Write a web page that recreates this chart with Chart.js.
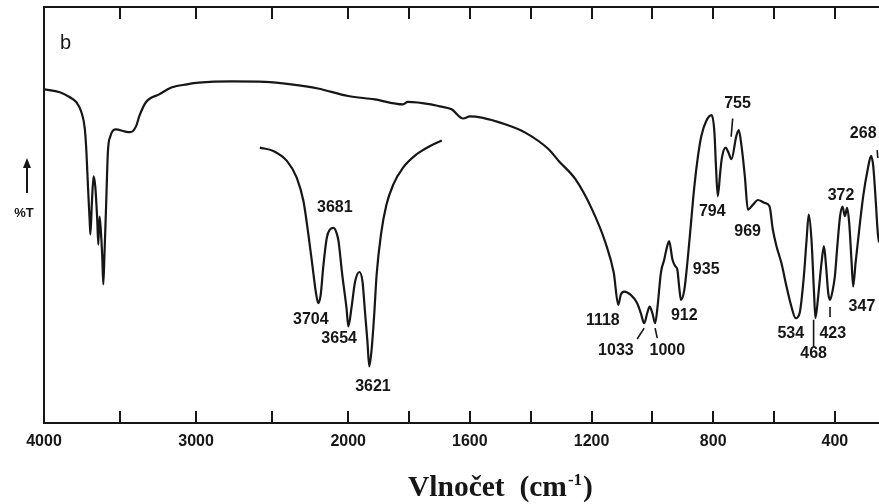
<!DOCTYPE html>
<html>
<head>
<meta charset="utf-8">
<script src="https://cdn.jsdelivr.net/npm/chart.js@4.4.1/dist/chart.umd.min.js"></script>
<style>
    html, body { margin: 0; padding: 0; background: #fff; }
</style>
</head>
<body>
<canvas id="irChart" width="879" height="504"></canvas>
<script>
// IR spectrum (panel b): %T vs wavenumber, scale doubles below 2000 cm-1.
// The O-H stretch region is repeated as an expanded inset curve.

const WAVENUMBERS = [
    4000, 3896, 3830, 3787, 3754, 3732, 3721, 3711, 3700, 3695, 3685, 3674, 3663, 3650,
    3643, 3635, 3628, 3617, 3610, 3602, 3591, 3580, 3564, 3526, 3471, 3434, 3395, 3374,
    3330, 3243, 3158, 3060, 2982, 2767, 2547, 2375, 2199, 2000, 1913, 1820, 1804, 1728,
    1704, 1660, 1622, 1600, 1561, 1484, 1418, 1341, 1308, 1253, 1198, 1154, 1127, 1112,
    1104, 1093, 1071, 1050, 1038, 1027, 1017, 1009, 1000, 991, 983, 972, 961, 954,
    945, 934, 925, 918, 912, 906, 895, 884, 873, 862, 850, 839, 823, 805,
    796, 791, 785, 777, 772, 759, 750, 740, 724, 716, 707, 696, 686, 669,
    653, 631, 615, 604, 592, 576, 559, 543, 529, 516, 502, 493, 486, 477,
    469, 464, 455, 444, 436, 429, 422, 416, 407, 400, 392, 383, 375, 367,
    360, 353, 345, 340, 332, 320, 307, 292, 281, 274, 266, 259, 255
];
const TRANSMITTANCE = [
    80.2, 79.5, 78.3, 77.1, 74.7, 70.8, 65.1, 56.9, 48.9, 45.3, 53.0, 59.3, 56.9, 48.9,
    42.9, 49.6, 47.2, 40.0, 33.3, 41.0, 53.0, 65.1, 68.9, 70.6, 70.1, 69.9, 71.3, 73.7,
    77.1, 79.0, 80.7, 81.4, 81.8, 82.1, 82.0, 81.4, 80.4, 78.6, 77.8, 76.6, 77.2, 76.6,
    76.2, 75.4, 73.2, 73.7, 73.4, 71.8, 69.8, 65.8, 63.0, 58.6, 51.3, 43.3, 36.1, 28.4,
    30.8, 31.6, 30.8, 28.8, 26.4, 24.0, 26.4, 28.0, 26.4, 24.0, 28.0, 36.1, 39.3, 41.7,
    43.7, 39.3, 37.7, 36.9, 32.8, 29.6, 32.0, 39.3, 48.1, 56.9, 64.2, 69.0, 72.6, 74.0,
    69.8, 61.8, 54.5, 60.2, 63.5, 66.2, 65.0, 63.4, 69.0, 70.4, 66.6, 59.3, 51.3, 52.5,
    53.6, 52.9, 52.1, 46.5, 42.5, 38.5, 32.8, 28.0, 25.2, 26.4, 35.3, 44.1, 50.1, 44.1,
    32.0, 25.2, 30.4, 38.5, 42.5, 37.7, 31.3, 29.6, 32.0, 35.3, 42.5, 49.7, 52.0, 49.7,
    51.7, 48.1, 38.5, 32.8, 38.5, 46.5, 54.5, 61.0, 64.2, 61.8, 53.7, 45.7, 43.4
];

// expanded O-H region
const INSET_WAVENUMBERS = [
    3799, 3777, 3755, 3739, 3728, 3720, 3713, 3708, 3704, 3700, 3696, 3690, 3685, 3679,
    3674, 3671, 3665, 3658, 3655, 3650, 3644, 3637, 3632, 3628, 3624, 3621, 3617, 3613,
    3609, 3602, 3593, 3582, 3566, 3544, 3522, 3503
];
const INSET_TRANSMITTANCE = [
    66.2, 65.4, 63.0, 59.0, 53.3, 45.3, 37.3, 31.6, 28.8, 30.8, 37.3, 44.6, 46.5, 46.9,
    45.6, 43.7, 35.7, 27.6, 23.2, 27.6, 34.0, 36.3, 34.0, 26.8, 19.6, 13.6, 18.0, 26.0,
    35.7, 45.3, 52.5, 57.3, 61.4, 64.6, 66.6, 67.9
];

const TICK_MARKS = [3500, 3000, 2500, 2000, 1800, 1600, 1400, 1200, 1000, 800, 600, 400];
const TICK_LABELS = [4000, 3000, 2000, 1600, 1200, 800, 400];

const BANDS = [1118, 1033, 1000, 912, 935, 794, 969, 755, 534, 468, 423, 372, 347, 268];
const INSET_BANDS = [3704, 3681, 3654, 3621];

// where each band number is written, [wavenumber, %T]
const BAND_SPOTS = [
    [1163, 24.5], [1120, 17.3], [951, 17.3], [895, 25.7], [823, 36.8], [803, 50.7], [687, 45.9],
    [720, 76.7], [545, 21.4], [470, 16.8], [407, 21.4], [380, 54.6], [311, 28.1], [307, 69.5]
];
const INSET_SPOTS = [[3716, 24.8], [3677, 51.9], [3670, 20.2], [3615, 8.7]];

// short pointer strokes next to some numbers
const LEADERS = [
    [[1050, 20.2], [1027, 22.8]],
    [[991, 22.8], [984, 20.4]],
    [[470, 24.8], [470, 18.3]],
    [[416, 27.9], [416, 25.5]],
    [[736, 73.2], [741, 68.8]],
    [[261, 65.6], [259, 63.7]]
];

const INK = '#161616';
const NUM_FONT = 'bold 16px "Liberation Sans", Arial, sans-serif';

// wavenumber -> axis units (1 unit = 100 cm-1 above 2000, 50 cm-1 below)
function toAxis(w) {
    return w >= 2000 ? (4000 - w) / 100 : 20 + (2000 - w) / 50;
}

const framePlugin = {
    id: 'frame',
    afterDatasetsDraw(chart) {
        const { ctx, chartArea: a, scales } = chart;
        const x = scales.x, xi = scales.xi, y = scales.y;

        ctx.save();
        ctx.strokeStyle = INK;
        ctx.fillStyle = INK;
        ctx.lineWidth = 2;
        ctx.lineCap = 'butt';

        // left, top and bottom rules
        ctx.beginPath();
        ctx.moveTo(a.right, a.top);
        ctx.lineTo(a.left, a.top);
        ctx.lineTo(a.left, a.bottom);
        ctx.lineTo(a.right, a.bottom);
        ctx.stroke();

        // inward tick marks
        ctx.beginPath();
        TICK_MARKS.forEach(w => {
            const px = Math.round(x.getPixelForValue(toAxis(w)));
            ctx.moveTo(px, a.top);
            ctx.lineTo(px, a.top + 12);
            ctx.moveTo(px, a.bottom);
            ctx.lineTo(px, a.bottom - 12);
        });
        ctx.stroke();

        // band numbers
        ctx.font = NUM_FONT;
        ctx.textAlign = 'center';
        ctx.textBaseline = 'middle';
        BANDS.forEach((b, i) => {
            const [w, t] = BAND_SPOTS[i];
            ctx.fillText(String(b), x.getPixelForValue(toAxis(w)), y.getPixelForValue(t));
        });
        INSET_BANDS.forEach((b, i) => {
            const [w, t] = INSET_SPOTS[i];
            ctx.fillText(String(b), xi.getPixelForValue(w), y.getPixelForValue(t));
        });

        ctx.lineWidth = 1.6;
        ctx.beginPath();
        LEADERS.forEach(([p, q]) => {
            ctx.moveTo(x.getPixelForValue(toAxis(p[0])), y.getPixelForValue(p[1]));
            ctx.lineTo(x.getPixelForValue(toAxis(q[0])), y.getPixelForValue(q[1]));
        });
        ctx.stroke();

        // panel letter
        ctx.font = '20px "Liberation Sans", Arial, sans-serif';
        ctx.textAlign = 'left';
        ctx.textBaseline = 'alphabetic';
        ctx.fillText('b', a.left + 16, a.top + 42);

        // y label with arrow
        const my = (a.top + a.bottom) / 2;
        ctx.font = 'bold 13px "Liberation Sans", Arial, sans-serif';
        ctx.textAlign = 'center';
        ctx.textBaseline = 'middle';
        ctx.fillText('%T', 24, my - 2);
        ctx.lineWidth = 2;
        ctx.beginPath();
        ctx.moveTo(27, my - 22);
        ctx.lineTo(27, my - 50);
        ctx.stroke();
        ctx.beginPath();
        ctx.moveTo(27, my - 57);
        ctx.lineTo(23, my - 47);
        ctx.lineTo(31, my - 47);
        ctx.closePath();
        ctx.fill();

        // axis title with superscript
        const tx = a.left + 364, ty = a.bottom + 73;
        const serif = '"Liberation Serif", "DejaVu Serif", serif';
        ctx.textAlign = 'left';
        ctx.textBaseline = 'alphabetic';
        ctx.font = 'bold 29.5px ' + serif;
        const head = 'Vlnočet  (cm';
        ctx.fillText(head, tx, ty);
        let cx = tx + ctx.measureText(head).width + 1;
        ctx.font = 'bold 17px ' + serif;
        ctx.fillText('-1', cx, ty - 11);
        cx += ctx.measureText('-1').width + 1;
        ctx.font = 'bold 29.5px ' + serif;
        ctx.fillText(')', cx, ty);

        ctx.restore();
    }
};

const ctx = document.getElementById('irChart').getContext('2d');

new Chart(ctx, {
    type: 'line',
    data: {
        datasets: [
            {
                data: WAVENUMBERS.map((w, i) => ({ x: toAxis(w), y: TRANSMITTANCE[i] })),
                xAxisID: 'x',
                borderColor: INK,
                borderWidth: 2.2,
                pointRadius: 0,
                cubicInterpolationMode: 'monotone',
                fill: false
            },
            {
                data: INSET_WAVENUMBERS.map((w, i) => ({ x: w, y: INSET_TRANSMITTANCE[i] })),
                xAxisID: 'xi',
                borderColor: INK,
                borderWidth: 2.2,
                pointRadius: 0,
                cubicInterpolationMode: 'monotone',
                fill: false
            }
        ]
    },
    options: {
        responsive: false,
        devicePixelRatio: 1,
        animation: false,
        layout: { padding: { left: 44, top: 7, right: 0, bottom: 0 } },
        plugins: {
            legend: { display: false },
            tooltip: { enabled: false }
        },
        scales: {
            x: {
                type: 'linear',
                position: 'bottom',
                min: 0,
                max: toAxis(255),
                grid: { display: false, drawTicks: false },
                border: { display: false },
                afterBuildTicks: scale => {
                    scale.ticks = TICK_LABELS.map(w => ({ value: toAxis(w) }));
                },
                afterFit: scale => { scale.height = 81; },
                ticks: {
                    autoSkip: false,
                    maxRotation: 0,
                    padding: 9,
                    color: INK,
                    font: { family: '"Liberation Sans", Arial, sans-serif', size: 16, weight: 'bold' },
                    callback: (value, index) => String(TICK_LABELS[index])
                }
            },
            xi: {
                type: 'linear',
                display: false,
                reverse: true,
                min: 2792,
                max: 4150
            },
            y: {
                display: false,
                min: 0,
                max: 100
            }
        }
    },
    plugins: [framePlugin]
});
</script>
</body>
</html>
